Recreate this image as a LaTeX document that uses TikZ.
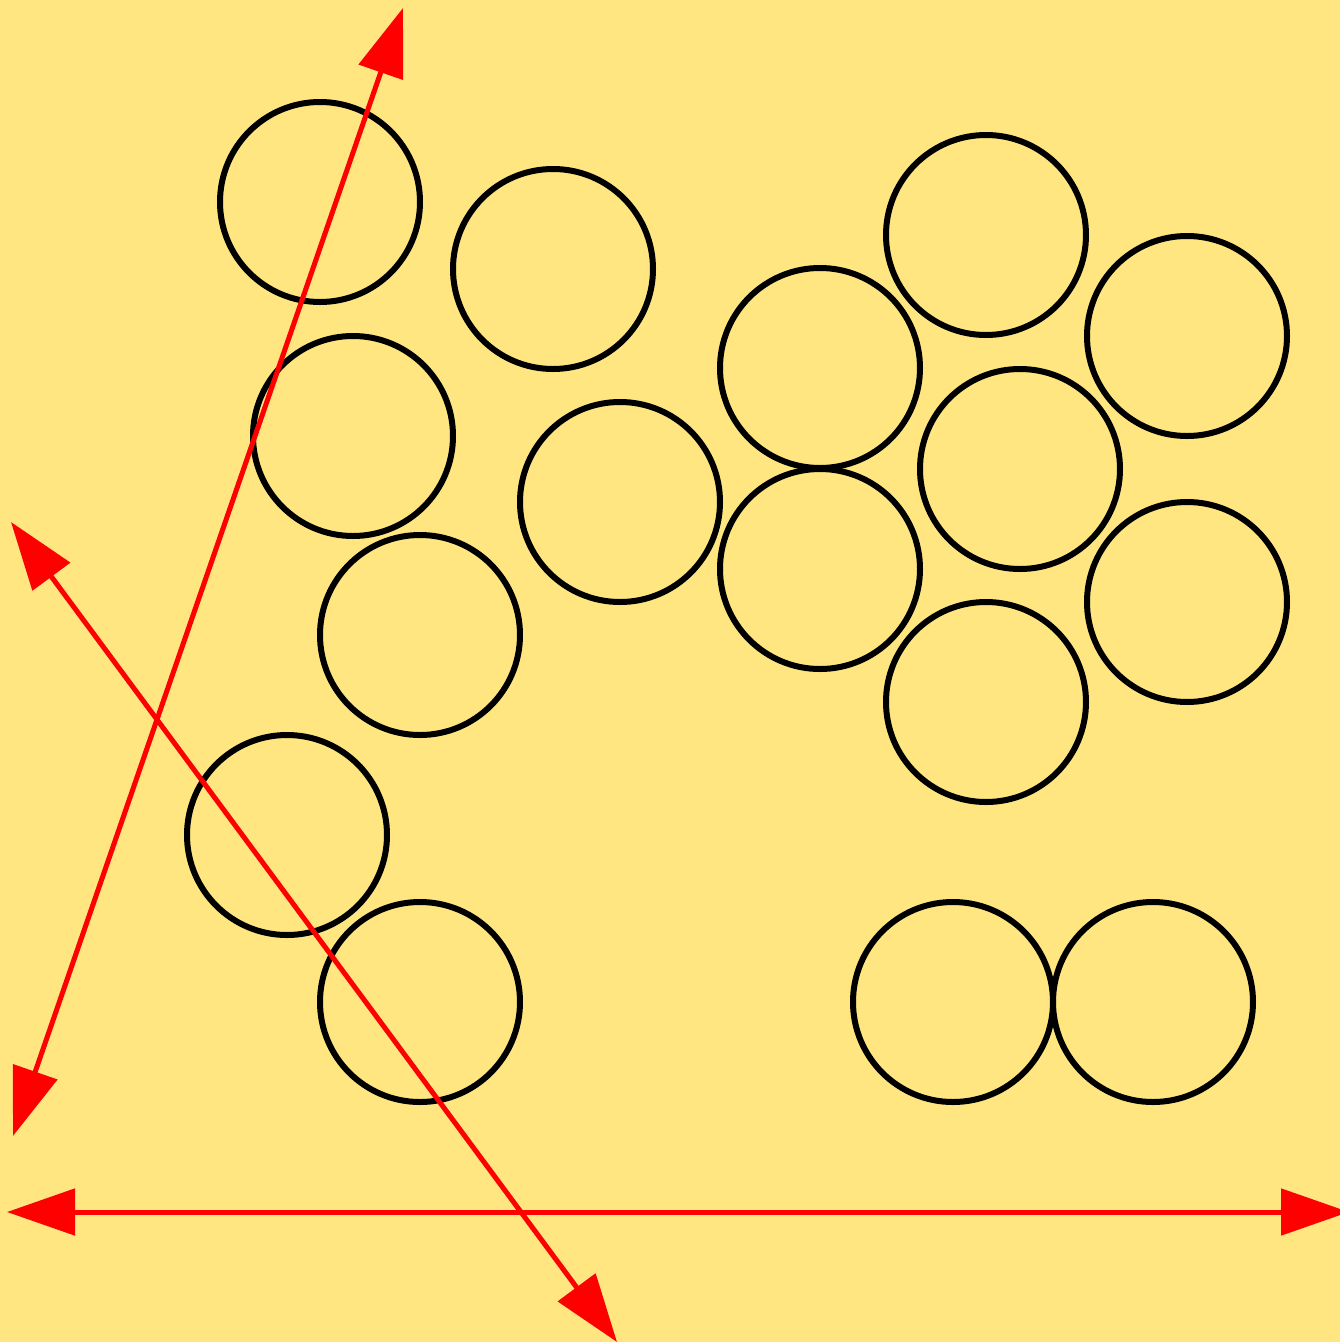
\documentclass[tikz,border=0pt]{standalone}
\usepackage{tikz}
\usetikzlibrary{arrows.meta}
\definecolor{sfondo}{RGB}{255,230,128}

\begin{document}
\begin{tikzpicture}[x=0.2mm, y=-0.2mm,
    cerchio/.style={draw=black, line width=1.2mm},
    freccia/.style={draw=red, line width=1mm, {Triangle[length=13.6mm, width=9.2mm]}-{Triangle[length=13.6mm, width=9.2mm]}}]
    %sfondo
    \fill[sfondo] (0,0) rectangle (1340,1342);
    \useasboundingbox (0,0) rectangle (1340,1342);
    %cerchi a sinistra
    \draw[cerchio] (320,202) circle (100);
    \draw[cerchio] (553,269) circle (100);
    \draw[cerchio] (353,436) circle (100);
    \draw[cerchio] (420,635) circle (100);
    \draw[cerchio] (620,502) circle (100);
    \draw[cerchio] (287,835) circle (100);
    \draw[cerchio] (420,1002) circle (100);
    %cerchi a destra
    \draw[cerchio] (820,368) circle (100);
    \draw[cerchio] (820,569) circle (100);
    \draw[cerchio] (986,235) circle (100);
    \draw[cerchio] (1020,469) circle (100);
    \draw[cerchio] (1187,336) circle (100);
    \draw[cerchio] (1187,602) circle (100);
    \draw[cerchio] (986,702) circle (100);
    %cerchi in basso
    \draw[cerchio] (953,1002) circle (100);
    \draw[cerchio] (1153,1002) circle (100);
    %frecce
    \draw[freccia] (13,1136) -- (403,8);
    \draw[freccia] (11,522) -- (617,1342);
    \draw[freccia] (7,1212) -- (1349,1212);
\end{tikzpicture}
\end{document}
